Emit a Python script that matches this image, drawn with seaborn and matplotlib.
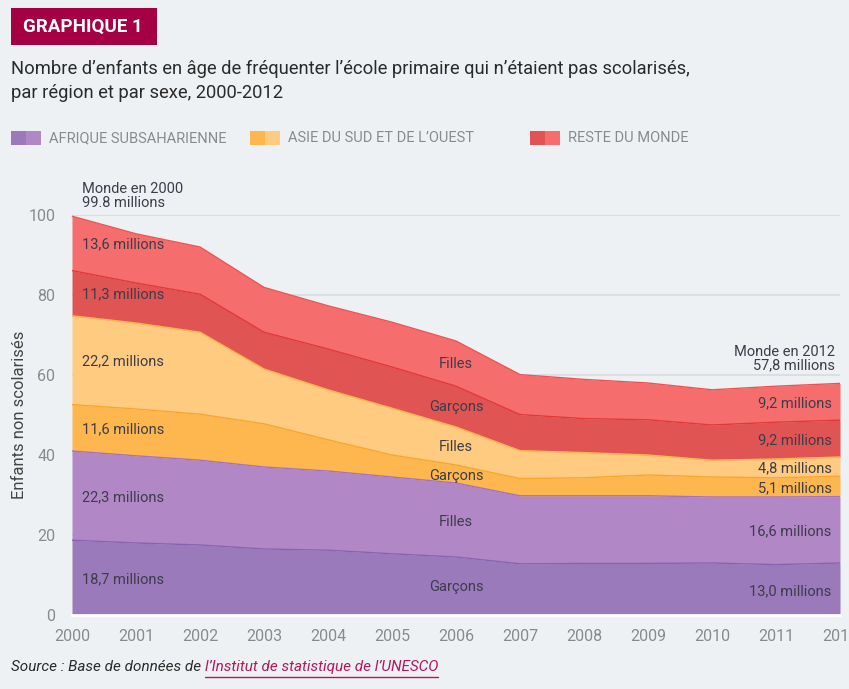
import numpy as np
import pandas as pd
import matplotlib
matplotlib.use("Agg")
import matplotlib.pyplot as plt
import seaborn as sns

years = [2000, 2001, 2002, 2003, 2004, 2005, 2006, 2007, 2008, 2009, 2010, 2011, 2012]
# values in millions
afrique_garcons = [18.7, 18.0, 17.5, 16.5, 16.2, 15.3, 14.5, 12.8, 12.9, 12.9, 13.0, 12.6, 13.0]
afrique_filles = [22.3, 21.8, 21.2, 20.5, 19.8, 19.2, 18.5, 17.0, 16.9, 16.9, 16.5, 16.9, 16.6]
asie_garcons = [11.6, 11.7, 11.5, 10.8, 7.8, 5.5, 4.5, 4.3, 4.5, 5.2, 5.0, 4.8, 5.1]
asie_filles = [22.2, 21.5, 20.5, 13.7, 12.5, 11.7, 9.5, 7.0, 6.3, 5.0, 4.2, 4.7, 4.8]
reste_garcons = [11.3, 10.0, 9.5, 9.2, 10.2, 10.3, 10.2, 9.0, 8.5, 8.8, 8.8, 9.2, 9.2]
reste_filles = [13.6, 12.3, 11.8, 11.2, 10.8, 11.2, 11.3, 10.0, 9.8, 9.2, 8.8, 9.0, 9.2]

series_names = ["Afrique garçons", "Afrique filles", "Asie garçons", "Asie filles",
                "Reste garçons", "Reste filles"]
series_vals = [afrique_garcons, afrique_filles, asie_garcons, asie_filles,
               reste_garcons, reste_filles]
fill_colors = ["#9a7aba", "#b187c6", "#feb74e", "#fecb80", "#e15454", "#f56d6d"]
edge_colors = ["#8a62b0", "#a372c0", "#f9a52a", "#fdb94e", "#e23838", "#ee5353"]

legend_labels = ["AFRIQUE SUBSAHARIENNE", "ASIE DU SUD ET DE L\u2019OUEST", "RESTE DU MONDE"]

left_labels = ["18,7 millions", "22,3 millions", "11,6 millions", "22,2 millions",
               "11,3 millions", "13,6 millions"]
right_labels = ["13,0 millions", "16,6 millions", "5,1 millions", "4,8 millions",
                "9,2 millions", "9,2 millions"]
mid_labels = ["Garçons", "Filles", "Garçons", "Filles", "Garçons", "Filles"]

BG = "#eef1f3"
sns.set_theme(style="white")
plt.rcParams["font.family"] = ["Roboto", "DejaVu Sans"]

W, H = 849, 689
fig = plt.figure(figsize=(W / 100, H / 100), dpi=100, facecolor=BG)
ax = fig.add_axes([72 / W, 1 - 615 / H, (840 - 72) / W, 400 / H])
ax.set_facecolor(BG)

# cumulative stacks
cum = np.zeros(len(years))
tops = []
rows = []
for name, vals in zip(series_names, series_vals):
    lower = cum.copy()
    cum = cum + np.array(vals)
    tops.append((lower, cum.copy()))
    for y, v in zip(years, cum):
        rows.append({"year": y, "cum": v, "serie": name})
df = pd.DataFrame(rows)

for i, (lower, upper) in enumerate(tops):
    ax.fill_between(years, lower, upper, color=fill_colors[i], lw=0, zorder=2)

sns.lineplot(data=df, x="year", y="cum", hue="serie", palette=dict(zip(series_names, edge_colors)),
             ax=ax, legend=False, lw=1.0, zorder=3)

ax.set_xlim(2000, 2012)
ax.set_ylim(0, 100)
ax.set_yticks([0, 20, 40, 60, 80, 100])
ax.set_xticks(years)
ax.yaxis.grid(True, color="#dcdfe2", lw=1.5, zorder=0)
ax.xaxis.grid(False)
for s in ["top", "right", "left"]:
    ax.spines[s].set_visible(False)
ax.spines["bottom"].set_color("#ffffff")
ax.spines["bottom"].set_linewidth(2)
ax.tick_params(axis="both", colors="#8a8a8a", labelsize=11.5, length=0)
ax.tick_params(axis="y", pad=12)
ax.tick_params(axis="x", pad=10)
ax.set_xlabel("")
ax.set_ylabel("Enfants non scolarisés", fontsize=12, color="#444444")
ax.yaxis.set_label_coords((27 - 72) / 768, 0.5)

txt_col = "#3d3d4a"
# left labels
lefty = [579, 497, 429, 361, 294, 244]
for lab, yp in zip(left_labels, lefty):
    ax.text(2000.16, 100 * (615 - yp) / 400, lab, fontsize=10.5, color=txt_col, va="center", ha="left", zorder=5)
righty = [591, 531, 488, 468, 440, 403]
for lab, yp in zip(right_labels, righty):
    ax.text(2011.87, 100 * (615 - yp) / 400, lab, fontsize=10.5, color=txt_col, va="center", ha="right", zorder=5)
midy = [587, 522, 476, 447, 407, 364]
for lab, yp in zip(mid_labels, midy):
    ax.text(2006.0, 100 * (615 - yp) / 400, lab, fontsize=10.5, color=txt_col, va="center", ha="center", zorder=5)

ax.text(2000.16, 100 * (615 - 196) / 400, "Monde en 2000\n99.8 millions", fontsize=10.5, color=txt_col,
        va="center", ha="left", linespacing=0.95, clip_on=False)
ax.text(2011.92, 100 * (615 - 359) / 400, "Monde en 2012\n57,8 millions", fontsize=10.5, color=txt_col,
        va="center", ha="right", linespacing=0.95, multialignment="right", zorder=5)

# header badge
fig.patches.append(plt.Rectangle((11 / W, 1 - 45 / H), 146 / W, 37 / H, transform=fig.transFigure,
                                 color="#a50044", lw=0))
fig.text(23 / W, 1 - 27 / H, "GRAPHIQUE 1", fontsize=13.5, fontweight="bold", color="white",
         va="center", ha="left")
fig.text(11 / W, 1 - 69 / H, "Nombre d\u2019enfants en âge de fréquenter l\u2019école primaire qui n\u2019étaient pas scolarisés,",
         fontsize=13.2, color="#2a2a2a", va="center", ha="left")
fig.text(11 / W, 1 - 93 / H, "par région et par sexe, 2000-2012", fontsize=13.2, color="#2a2a2a",
         va="center", ha="left")

# legend
leg_x = [11, 250, 530]
for k, (lab, x0) in enumerate(zip(legend_labels, leg_x)):
    fig.patches.append(plt.Rectangle((x0 / W, 1 - 145 / H), 15 / W, 14 / H, transform=fig.transFigure,
                                     color=fill_colors[2 * k], lw=0))
    fig.patches.append(plt.Rectangle(((x0 + 15) / W, 1 - 145 / H), 15 / W, 14 / H, transform=fig.transFigure,
                                     color=fill_colors[2 * k + 1], lw=0))
    fig.text((x0 + 38) / W, 1 - 138 / H, lab, fontsize=10.5, color="#8a8a8a", va="center", ha="left")

# source
t1 = fig.text(11 / W, 1 - 667 / H, "Source : Base de données de ", fontsize=11, style="italic",
              color="#2a2a2a", va="center", ha="left")
fig.canvas.draw()
bb = t1.get_window_extent()
x1 = bb.x1 / W
t2 = fig.text(x1, 1 - 667 / H, "l\u2019Institut de statistique de l\u2019UNESCO", fontsize=11, style="italic",
              color="#b5175a", va="center", ha="left")
fig.canvas.draw()
bb2 = t2.get_window_extent()
fig.lines.append(plt.Line2D([bb2.x0 / W, bb2.x1 / W], [1 - 677 / H, 1 - 677 / H], transform=fig.transFigure,
                            color="#b5175a", lw=1))

fig.savefig("out.png", dpi=100, facecolor=BG)
